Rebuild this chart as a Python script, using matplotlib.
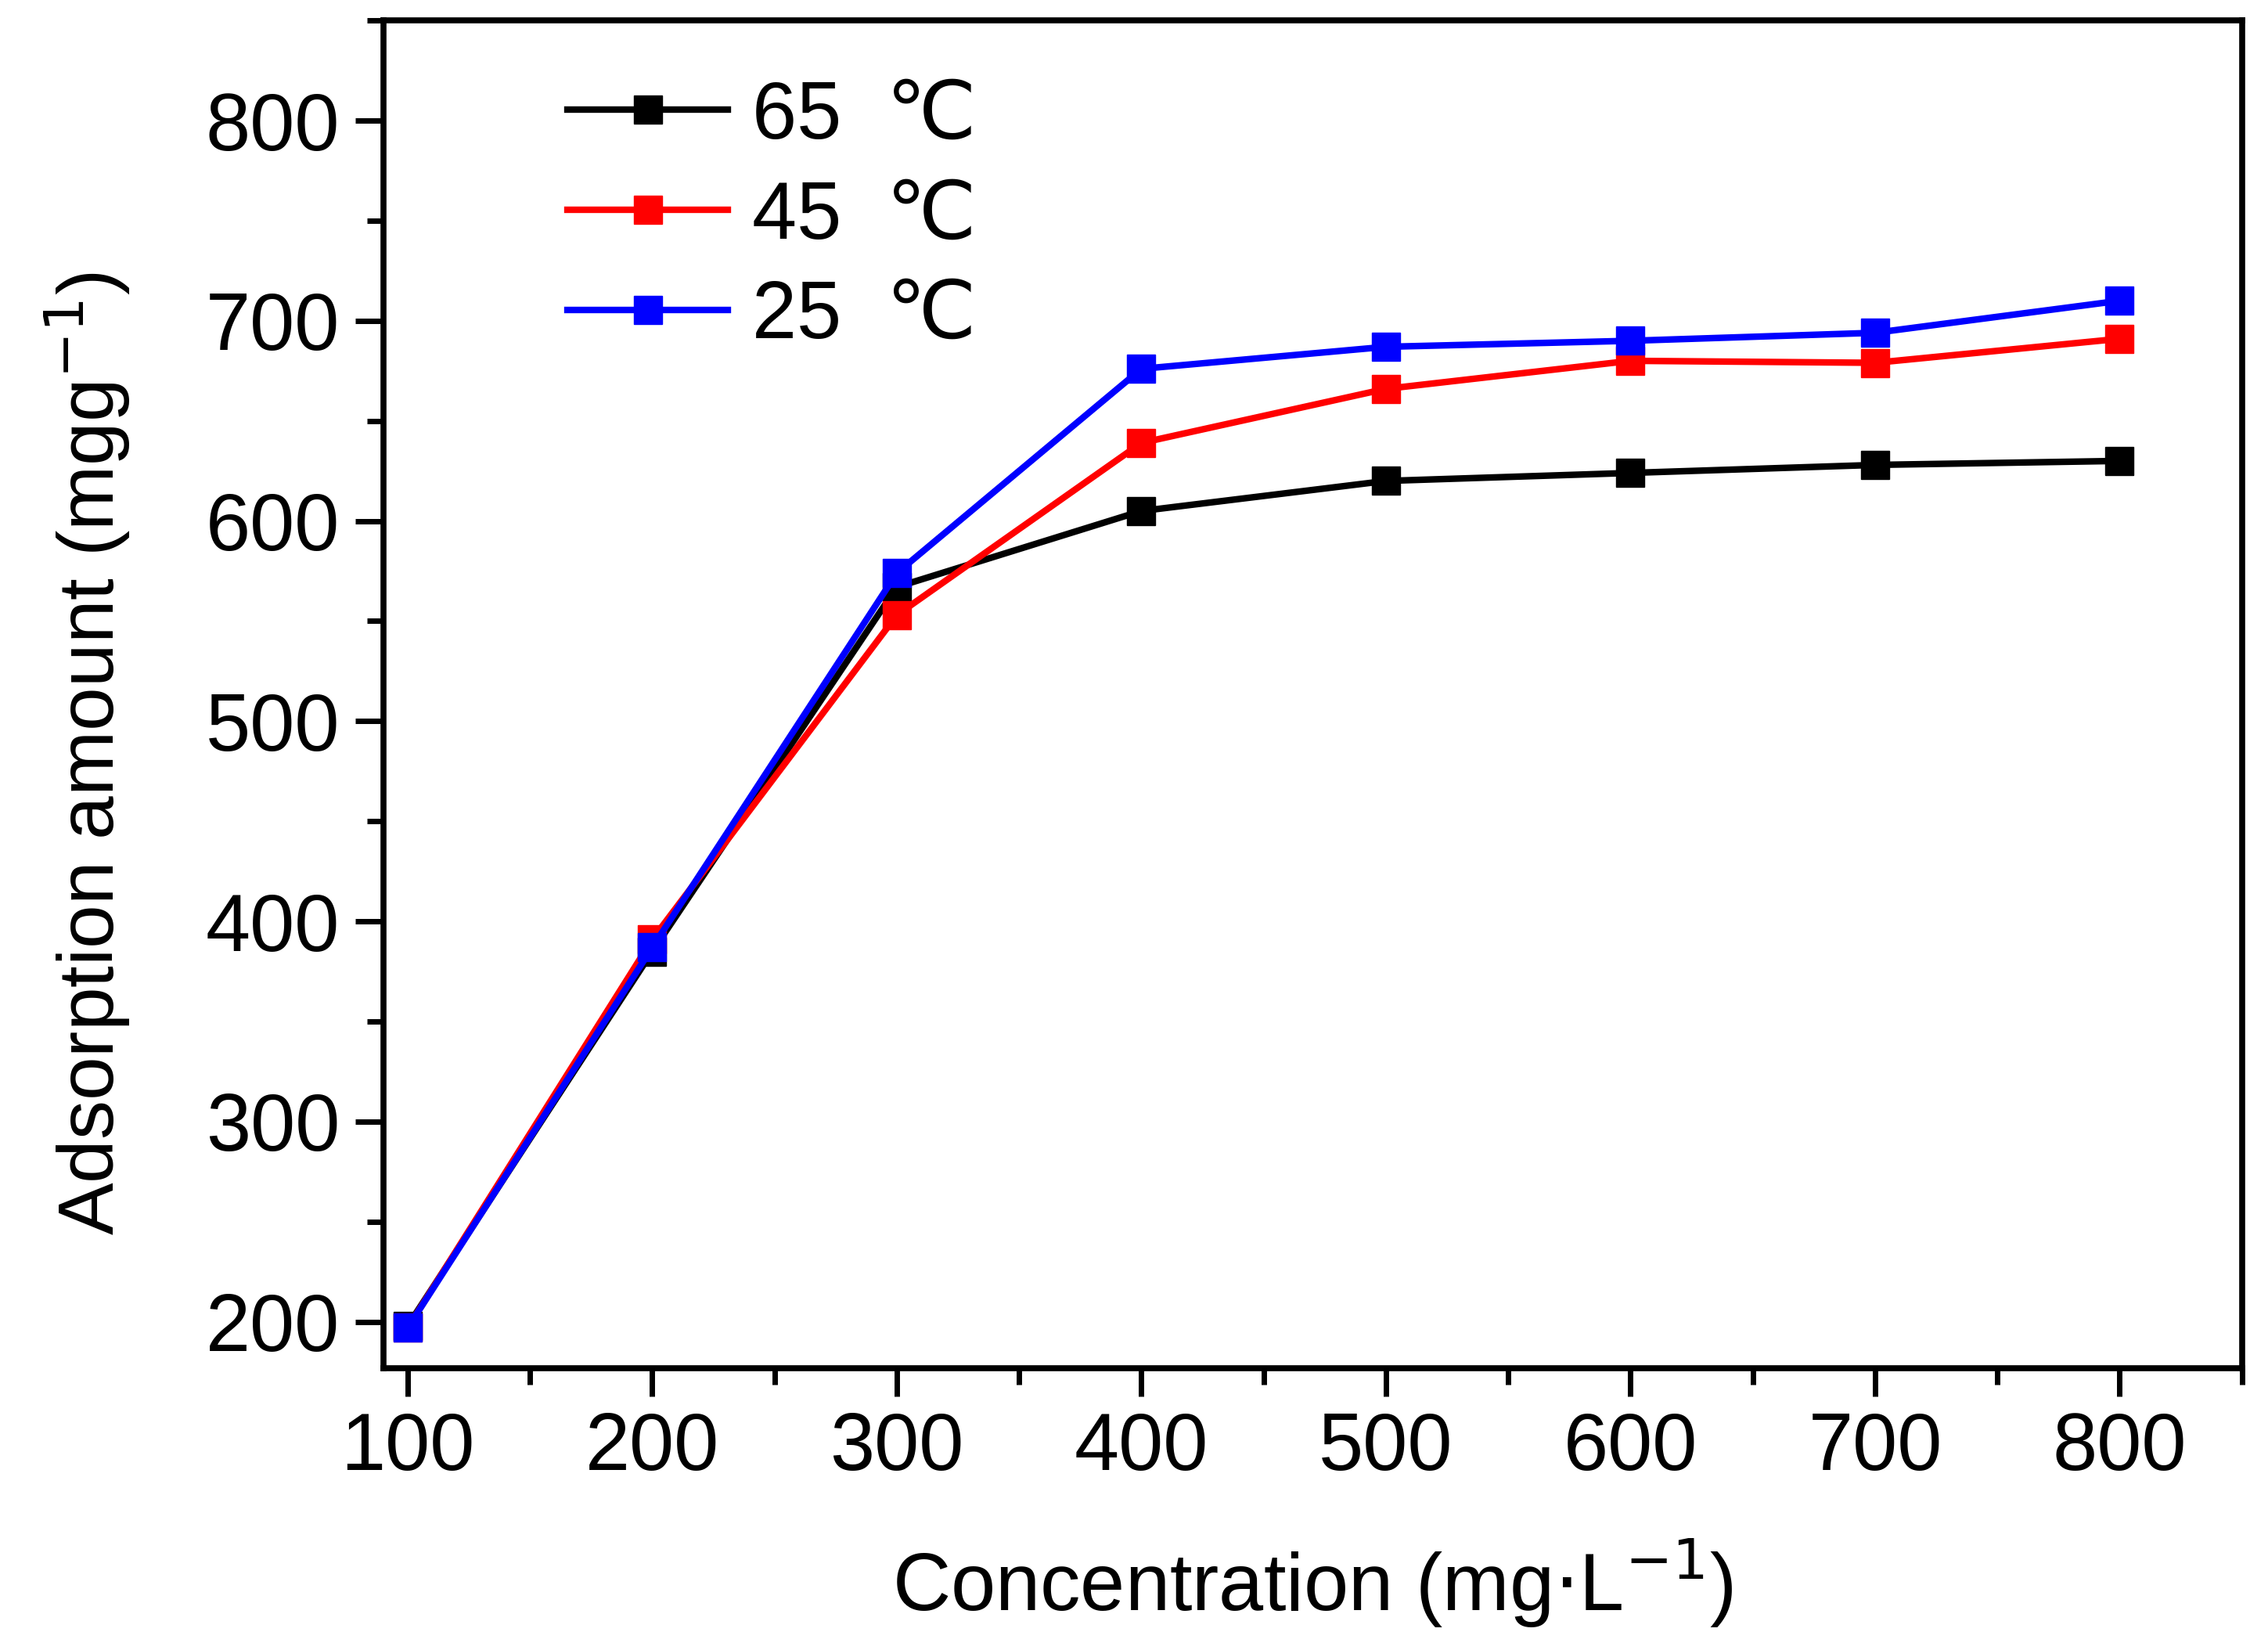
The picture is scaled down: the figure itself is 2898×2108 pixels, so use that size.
import matplotlib
matplotlib.use("Agg")
import matplotlib.pyplot as plt
from matplotlib.ticker import MultipleLocator

conc = [100, 200, 300, 400, 500, 600, 700, 800]
q_65 = [198, 385, 567, 605, 620, 624, 628, 630]
q_45 = [197, 391, 553, 639, 666, 680, 679, 691]
q_25 = [197, 387, 574, 676, 687, 690, 694, 710]
temps = ['65', '45', '25']

plt.rcParams['font.family'] = ['Liberation Sans', 'DejaVu Sans', 'Noto Sans CJK SC']

fig = plt.figure(figsize=(28.98, 21.08), dpi=100)
ax = fig.add_axes([0.169, 0.171, 0.8195, 0.8166])

for y, c, t in zip([q_65, q_45, q_25], ['black', 'red', 'blue'], temps):
    ax.plot(conc, y, color=c, lw=6, marker='s', ms=26, label=t + '  \u2103')

ax.set_xlim(90, 850)
ax.set_ylim(177, 850)
ax.xaxis.set_major_locator(MultipleLocator(100))
ax.xaxis.set_minor_locator(MultipleLocator(50))
ax.yaxis.set_major_locator(MultipleLocator(100))
ax.yaxis.set_minor_locator(MultipleLocator(50))
ax.tick_params(which='major', direction='out', length=26, width=5, labelsize=74, pad=14)
ax.tick_params(which='minor', direction='out', length=15, width=5)
for s in ax.spines.values():
    s.set_linewidth(5.5)

ax.set_xlabel('Concentration (mg$\\cdot$L$^{-1}$)', fontsize=74, labelpad=45)
ax.set_ylabel('Adsorption amount (mgg$^{-1}$)', fontsize=72)
ax.yaxis.set_label_coords(-0.135, 0.456)

leg = ax.legend(loc='upper left', bbox_to_anchor=(0.06, 1.01), frameon=False,
                fontsize=74, handlelength=2.0, handletextpad=0.3, labelspacing=0.3)

fig.savefig('out.png', dpi=100)
